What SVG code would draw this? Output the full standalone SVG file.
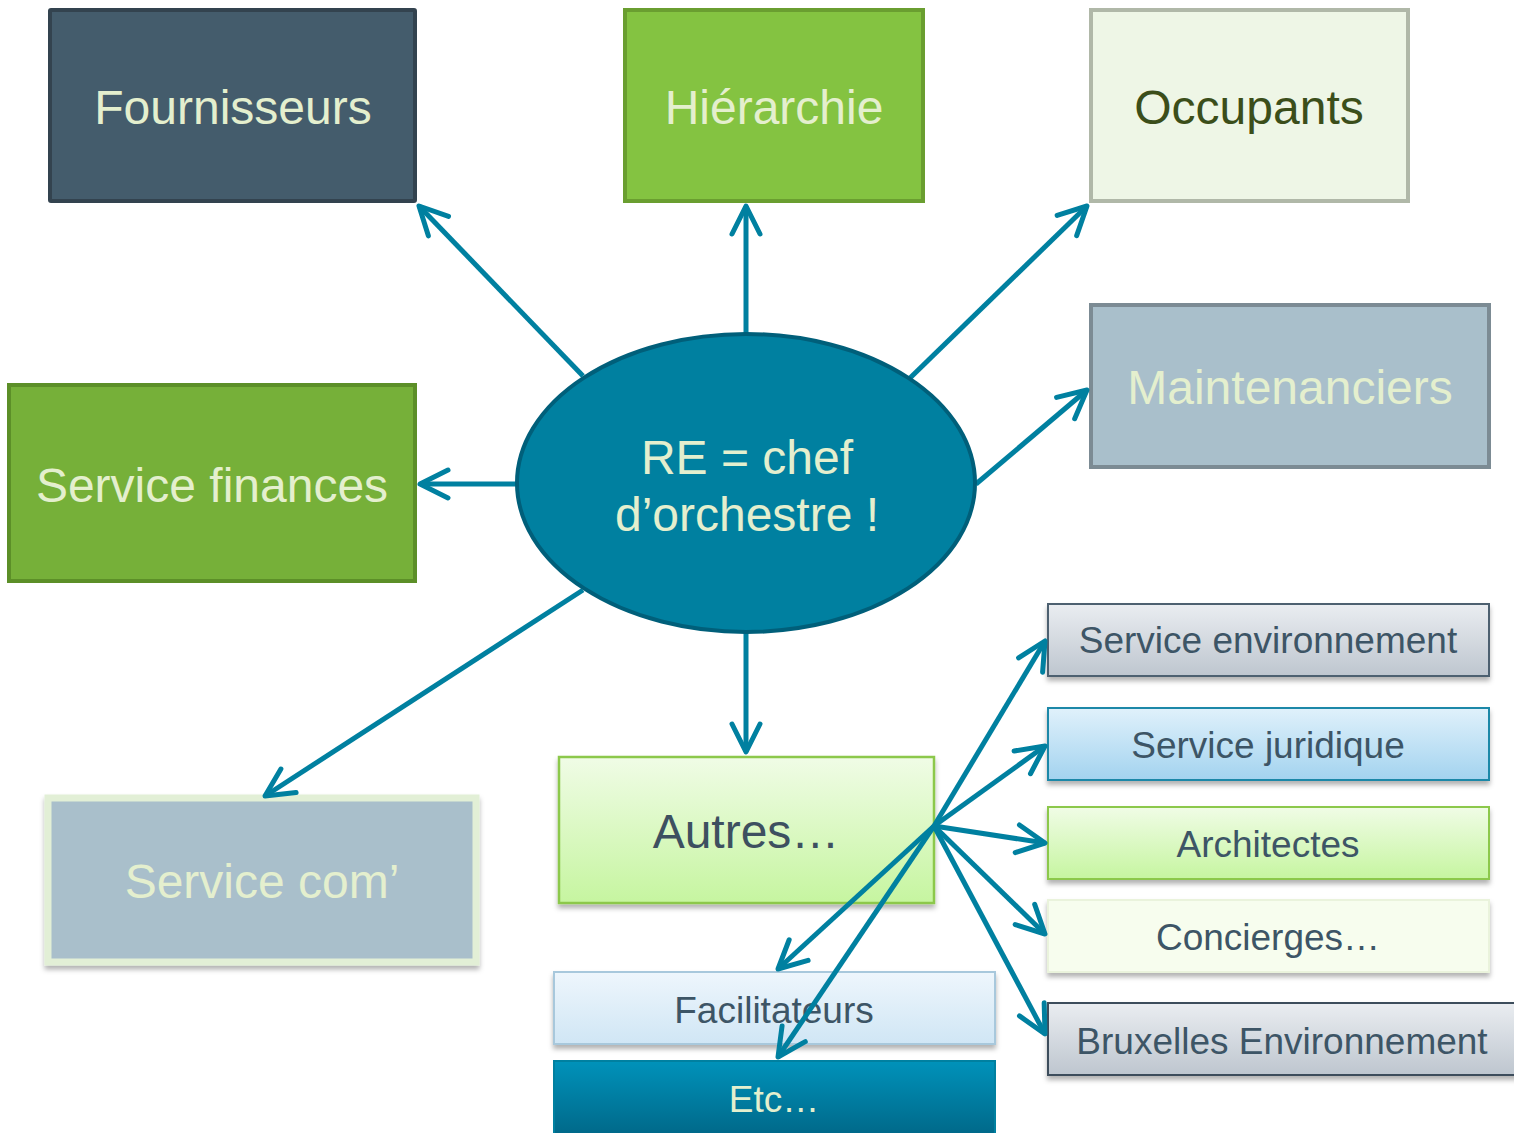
<svg xmlns="http://www.w3.org/2000/svg" width="1514" height="1133" viewBox="0 0 1514 1133">
<style>
text{font-family:"Liberation Sans",Arial,sans-serif;text-anchor:middle}
.big{font-size:48px}
.sm{font-size:37px;fill:#3d5566}
.lt{fill:#e4efce}
.con line{stroke:#0080a0;stroke-width:5;fill:none;marker-end:url(#ah)}
</style>
<defs>
<marker id="ah" markerUnits="userSpaceOnUse" viewBox="-40 -20 50 40" refX="0" refY="0" markerWidth="50" markerHeight="40" orient="auto" overflow="visible">
<path d="M-28,-14 L0,0 L-28,14" fill="none" stroke="#0080a0" stroke-width="5" stroke-linecap="round" stroke-linejoin="round"/>
</marker>
<filter id="sh" x="-10%" y="-10%" width="120%" height="130%">
<feDropShadow dx="0" dy="4" stdDeviation="2.5" flood-color="#000" flood-opacity="0.3"/>
</filter>
<linearGradient id="gAut" x1="0" y1="0" x2="0" y2="1"><stop offset="0" stop-color="#f0fce6"/><stop offset="1" stop-color="#c6f5a0"/></linearGradient>
<linearGradient id="gEnv" x1="0" y1="0" x2="0" y2="1"><stop offset="0" stop-color="#eaedf1"/><stop offset="1" stop-color="#bec6cf"/></linearGradient>
<linearGradient id="gJur" x1="0" y1="0" x2="0" y2="1"><stop offset="0" stop-color="#e0f1fb"/><stop offset="1" stop-color="#a3d3ef"/></linearGradient>
<linearGradient id="gFac" x1="0" y1="0" x2="0" y2="1"><stop offset="0" stop-color="#eef6fc"/><stop offset="1" stop-color="#d0e6f5"/></linearGradient>
<linearGradient id="gEtc" x1="0" y1="0" x2="0" y2="1"><stop offset="0" stop-color="#0092ba"/><stop offset="1" stop-color="#006585"/></linearGradient>
</defs>

<g id="fournisseurs">
<rect x="50" y="10" width="365" height="191" fill="#445c6c" stroke="#33434f" stroke-width="4" rx="1"/>
<text class="big lt" x="233" y="124">Fournisseurs</text>
</g>
<g id="hierarchie">
<rect x="625" y="10" width="298" height="191" fill="#84c341" stroke="#6a9e30" stroke-width="4"/>
<text class="big lt" x="774" y="124">Hiérarchie</text>
</g>
<g id="occupants">
<rect x="1091" y="10" width="317" height="191" fill="#eef6e6" stroke="#b0b8a8" stroke-width="4"/>
<text class="big" x="1249" y="124" fill="#3b4e1a">Occupants</text>
</g>
<g id="maintenanciers">
<rect x="1091" y="305" width="398" height="162" fill="#a9bfcb" stroke="#7c8b94" stroke-width="4"/>
<text class="big" x="1290" y="404" fill="#e4efce">Maintenanciers</text>
</g>
<g id="finances">
<rect x="9" y="385" width="406" height="196" fill="#76b039" stroke="#5c8f28" stroke-width="4"/>
<text class="big lt" x="212" y="502">Service finances</text>
</g>
<g id="servicecom">
<rect x="48" y="798" width="428" height="164" fill="#a9bfcb" stroke="#e2efd6" stroke-width="7" filter="url(#sh)"/>
<text class="big lt" x="262" y="898">Service com’</text>
</g>
<g id="autres">
<rect x="559" y="757" width="375" height="146" fill="url(#gAut)" stroke="#8cc84b" stroke-width="2.5" filter="url(#sh)"/>
<text class="big" x="746" y="848" fill="#3d5060">Autres…</text>
</g>
<g id="env">
<rect x="1048" y="604" width="441" height="72" fill="url(#gEnv)" stroke="#4e6070" stroke-width="2" filter="url(#sh)"/>
<text class="sm" x="1268" y="653">Service environnement</text>
</g>
<g id="juridique">
<rect x="1048" y="708" width="441" height="72" fill="url(#gJur)" stroke="#1a88a8" stroke-width="2" filter="url(#sh)"/>
<text class="sm" x="1268" y="758">Service juridique</text>
</g>
<g id="architectes">
<rect x="1048" y="807" width="441" height="72" fill="url(#gAut)" stroke="#8cc84b" stroke-width="2" filter="url(#sh)"/>
<text class="sm" x="1268" y="857">Architectes</text>
</g>
<g id="concierges">
<rect x="1048" y="900" width="441" height="72" fill="#f7fdee" stroke="#eaf3dc" stroke-width="2" filter="url(#sh)"/>
<text class="sm" x="1268" y="950">Concierges…</text>
</g>
<g id="bruxelles">
<rect x="1048" y="1003" width="470" height="72" fill="url(#gEnv)" stroke="#3d4d5b" stroke-width="2" filter="url(#sh)"/>
<text class="sm" x="1282" y="1054">Bruxelles Environnement</text>
</g>
<g id="facilitateurs">
<rect x="554" y="972" width="441" height="72" fill="url(#gFac)" stroke="#a8c8dc" stroke-width="2" filter="url(#sh)"/>
<text class="sm" x="774" y="1023">Facilitateurs</text>
</g>
<g id="etc">
<rect x="554" y="1061" width="441" height="80" fill="url(#gEtc)" stroke="#0080a0" stroke-width="2"/>
<text class="sm lt" x="774" y="1112">Etc…</text>
</g>

<g id="connectors" class="con">
<line x1="583" y1="376" x2="419" y2="206"/>
<line x1="746" y1="334" x2="746" y2="206"/>
<line x1="910" y1="378" x2="1087" y2="206"/>
<line x1="976" y1="484" x2="1087" y2="390"/>
<line x1="517" y1="484" x2="420" y2="484"/>
<line x1="583" y1="590" x2="265" y2="796"/>
<line x1="746" y1="632" x2="746" y2="752"/>
<line x1="934" y1="826" x2="1045" y2="641"/>
<line x1="934" y1="826" x2="1045" y2="746"/>
<line x1="934" y1="826" x2="1045" y2="843"/>
<line x1="934" y1="826" x2="1045" y2="934"/>
<line x1="934" y1="826" x2="1045" y2="1034"/>
<line x1="934" y1="826" x2="778" y2="969"/>
<line x1="934" y1="826" x2="778" y2="1057"/>
</g>

<g id="center">
<ellipse cx="746" cy="483" rx="229" ry="149" fill="#0080a0" stroke="#005f7a" stroke-width="4"/>
<text class="big lt" x="747" y="474">RE = chef</text>
<text class="big lt" x="747" y="531">d’orchestre !</text>
</g>
</svg>
